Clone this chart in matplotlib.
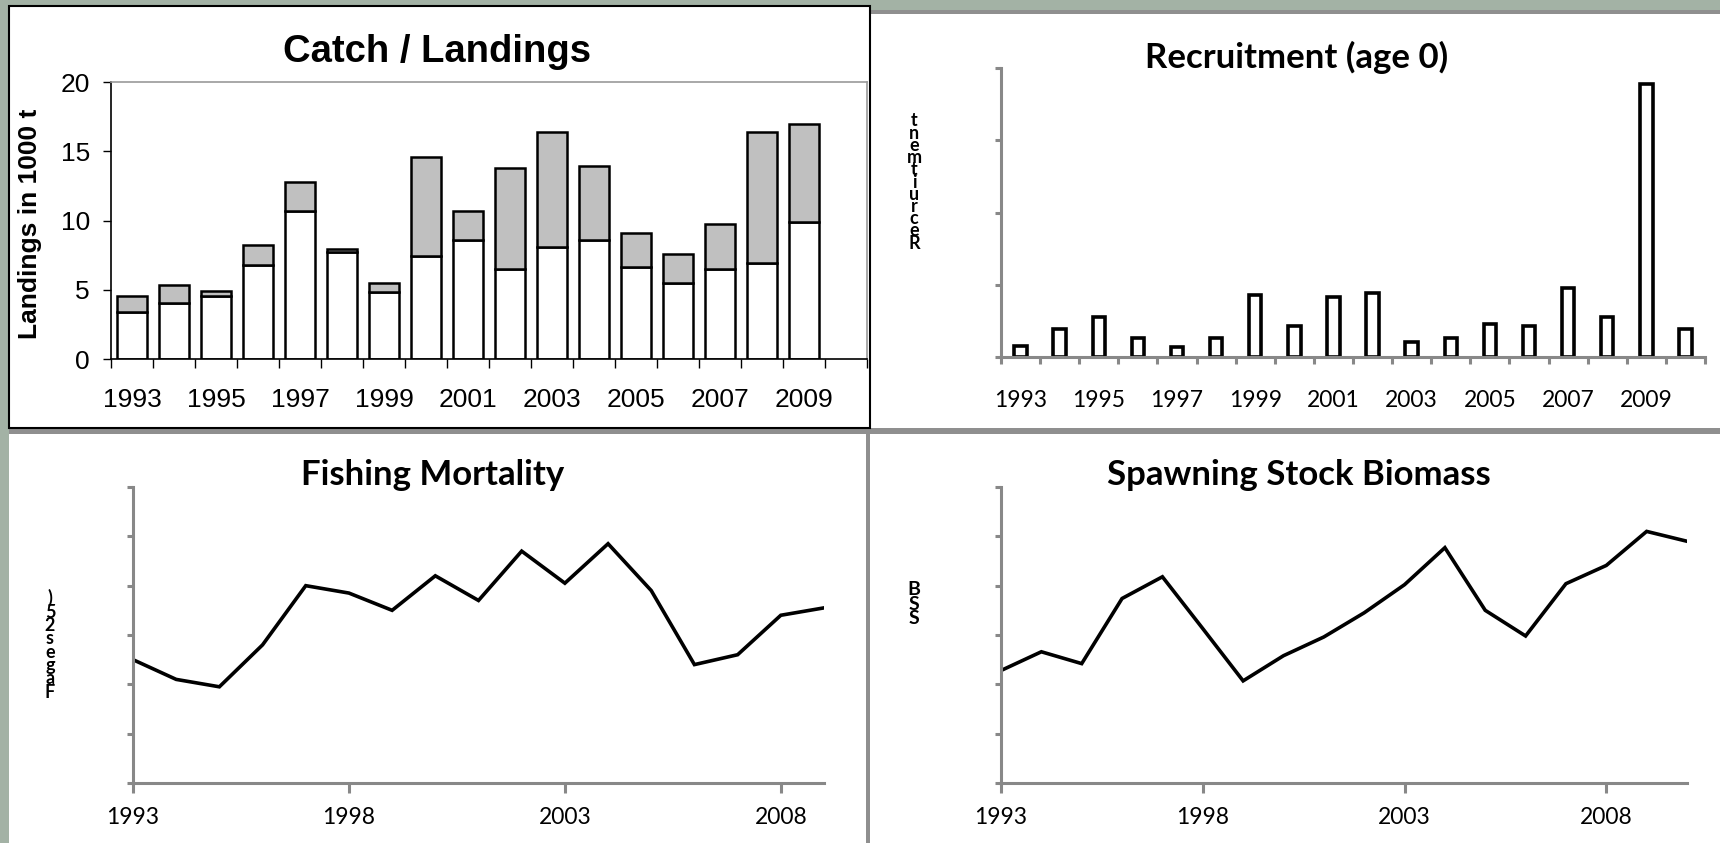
import numpy as np
import matplotlib
matplotlib.use('Agg')
import matplotlib.pyplot as plt
from matplotlib.patches import Rectangle

W, H = 1720, 843

# ---- data ----
catch_years = list(range(1993, 2010))
landings = [3.38, 4.03, 4.57, 6.79, 10.7, 7.73, 4.86, 7.42, 8.57, 6.50,
            8.07, 8.57, 6.64, 5.48, 6.50, 6.91, 9.90]
discards = [1.16, 1.31, 0.31, 1.47, 2.10, 0.19, 0.65, 7.18, 2.13, 7.30,
            8.33, 5.39, 2.44, 2.13, 3.23, 9.49, 7.10]

rec_years = list(range(1993, 2011))
recruitment = [0.74, 1.97, 2.77, 1.32, 0.69, 1.34, 4.30, 2.15, 4.18, 4.44,
               1.04, 1.32, 2.31, 2.15, 4.76, 2.77, 18.9, 1.97]

f_years = list(range(1993, 2010))
fishing_mort = [0.50, 0.42, 0.39, 0.56, 0.80, 0.77, 0.70, 0.84, 0.74, 0.94,
                0.81, 0.97, 0.78, 0.48, 0.52, 0.68, 0.71]

ssb_years = list(range(1993, 2011))
ssb = [22.8, 26.6, 24.2, 37.4, 41.8, 31.3, 20.7, 25.8, 29.6, 34.5,
       40.2, 47.7, 35.0, 29.8, 40.4, 44.1, 51.0, 49.0]

bg = '#a3b2a5'
axis_grey = '#888888'
band_grey = '#8f8f8f'
arial = 'Liberation Sans'
cal = 'Lato'


def px2pt(p):
    return p * 0.72


fig = plt.figure(figsize=(W / 100, H / 100), dpi=100, facecolor=bg)


def rect(x0, y0, x1, y1, **kw):
    fig.patches.append(Rectangle((x0 / W, 1 - y1 / H), (x1 - x0) / W, (y1 - y0) / H,
                                 transform=fig.transFigure, zorder=-10, **kw))


def px_axes(x0, y0, x1, y1):
    return fig.add_axes([x0 / W, 1 - y1 / H, (x1 - x0) / W, (y1 - y0) / H])


def fig_text(x, y, s, **kw):
    fig.text(x / W, 1 - y / H, s, **kw)


def stacked(x, y_mid, chars, size, spacing):
    # Excel-style vertical label: upright letters stacked, read bottom-up
    fig_text(x, y_mid, '\n'.join(chars), ha='center', va='center',
             multialignment='center', family=cal, fontsize=size,
             fontweight='bold', linespacing=spacing)


# panel backgrounds
rect(870, 10, 1720, 14, fc=band_grey, lw=0)
rect(870, 14, 1720, 428, fc='white', lw=0)
rect(9, 428, 1720, 434, fc=band_grey, lw=0)
rect(9, 434, 866, 843, fc='white', lw=0)
rect(866, 434, 870, 843, fc=band_grey, lw=0)
rect(870, 434, 1720, 843, fc='white', lw=0)
rect(9, 6, 870, 428, fc='white', ec='black', lw=1.5)

# ---- Catch / Landings ----
ax = px_axes(111, 82, 867, 359)
x = np.arange(len(catch_years))
ax.bar(x, landings, width=0.7, color='white', edgecolor='black', linewidth=1.8)
ax.bar(x, discards, width=0.7, bottom=landings, color='#c0c0c0',
       edgecolor='black', linewidth=1.8)
ax.set_xlim(-0.5, 17.5)
ax.set_ylim(0, 20)
ax.set_yticks([0, 5, 10, 15, 20])
ax.set_xticks(x[::2])
ax.set_xticklabels([str(y) for y in catch_years[::2]])
ax.set_xticks(np.arange(-0.5, 18, 1), minor=True)
ax.tick_params(axis='x', which='major', length=0, pad=px2pt(29), labelsize=19)
ax.tick_params(axis='x', which='minor', length=px2pt(9), width=1, color='black')
ax.tick_params(axis='y', length=px2pt(8), width=1, pad=px2pt(13), labelsize=19)
for lab in ax.get_xticklabels() + ax.get_yticklabels():
    lab.set_family(arial)
for s in ['left', 'bottom']:
    ax.spines[s].set_color('black')
    ax.spines[s].set_linewidth(1.2)
for s in ['top', 'right']:
    ax.spines[s].set_color('#999999')
    ax.spines[s].set_linewidth(1.2)
fig_text(437, 52, 'Catch / Landings', ha='center', va='center', family=arial,
         fontsize=27.5, fontweight='bold')
fig_text(30, 224, 'Landings in 1000 t', ha='center', va='center', family=arial,
         fontsize=19, fontweight='bold', rotation=90)


def style_grey(ax):
    for s in ['top', 'right']:
        ax.spines[s].set_visible(False)
    for s in ['left', 'bottom']:
        ax.spines[s].set_color(axis_grey)
        ax.spines[s].set_linewidth(2.2)
    ax.tick_params(axis='y', length=px2pt(6), width=2.2, color=axis_grey,
                   labelleft=False)


# ---- Recruitment ----
ax = px_axes(1001, 68, 1705, 357)
x = np.arange(len(rec_years))
ax.bar(x, recruitment, width=0.32, color='white', edgecolor='black', linewidth=2.6)
ax.set_xlim(-0.5, 17.5)
ax.set_ylim(0, 20)
ax.set_yticks([0, 5, 10, 15, 20])
ax.set_xticks(x[:17:2])
ax.set_xticklabels([str(y) for y in rec_years[:17:2]])
ax.set_xticks(np.arange(-0.5, 18, 1), minor=True)
style_grey(ax)
ax.tick_params(axis='x', which='major', length=0, pad=px2pt(33), labelsize=16.5)
ax.tick_params(axis='x', which='minor', length=px2pt(7), width=2.2, color=axis_grey)
for lab in ax.get_xticklabels():
    lab.set_family(cal)
fig_text(1297, 57, 'Recruitment (age 0)', ha='center', va='center', family=cal,
         fontsize=25, fontweight='bold')
stacked(914, 182, list('Recruitment')[::-1], 13, 0.66)

# ---- Fishing Mortality ----
ax = px_axes(133, 487, 824, 783)
ax.plot(f_years, fishing_mort, color='black', linewidth=2.6, solid_joinstyle='miter')
ax.set_xlim(1993, 2009)
ax.set_ylim(0, 1.2)
ax.set_yticks(np.arange(0, 1.21, 0.2))
ax.set_xticks([1993, 1998, 2003, 2008])
style_grey(ax)
ax.tick_params(axis='x', length=px2pt(10), width=2.2, color=axis_grey,
               pad=px2pt(14), labelsize=16.5)
for lab in ax.get_xticklabels():
    lab.set_family(cal)
fig_text(433, 475, 'Fishing Mortality', ha='center', va='center', family=cal,
         fontsize=25, fontweight='bold')
stacked(50, 645, [')', '5', '2', 's', 'e', 'g', 'a', 'F'], 13, 0.74)

# ---- Spawning Stock Biomass ----
ax = px_axes(1001, 487, 1687, 783)
ax.plot(ssb_years, ssb, color='black', linewidth=2.6, solid_joinstyle='miter')
ax.set_xlim(1993, 2010)
ax.set_ylim(0, 60)
ax.set_yticks(np.arange(0, 61, 10))
ax.set_xticks([1993, 1998, 2003, 2008])
style_grey(ax)
ax.tick_params(axis='x', length=px2pt(10), width=2.2, color=axis_grey,
               pad=px2pt(14), labelsize=16.5)
for lab in ax.get_xticklabels():
    lab.set_family(cal)
fig_text(1299, 475, 'Spawning Stock Biomass', ha='center', va='center', family=cal,
         fontsize=25, fontweight='bold')
stacked(914, 604, ['B', 'S', 'S'], 14, 0.85)

fig.savefig('out.png', dpi=100, facecolor=bg)
